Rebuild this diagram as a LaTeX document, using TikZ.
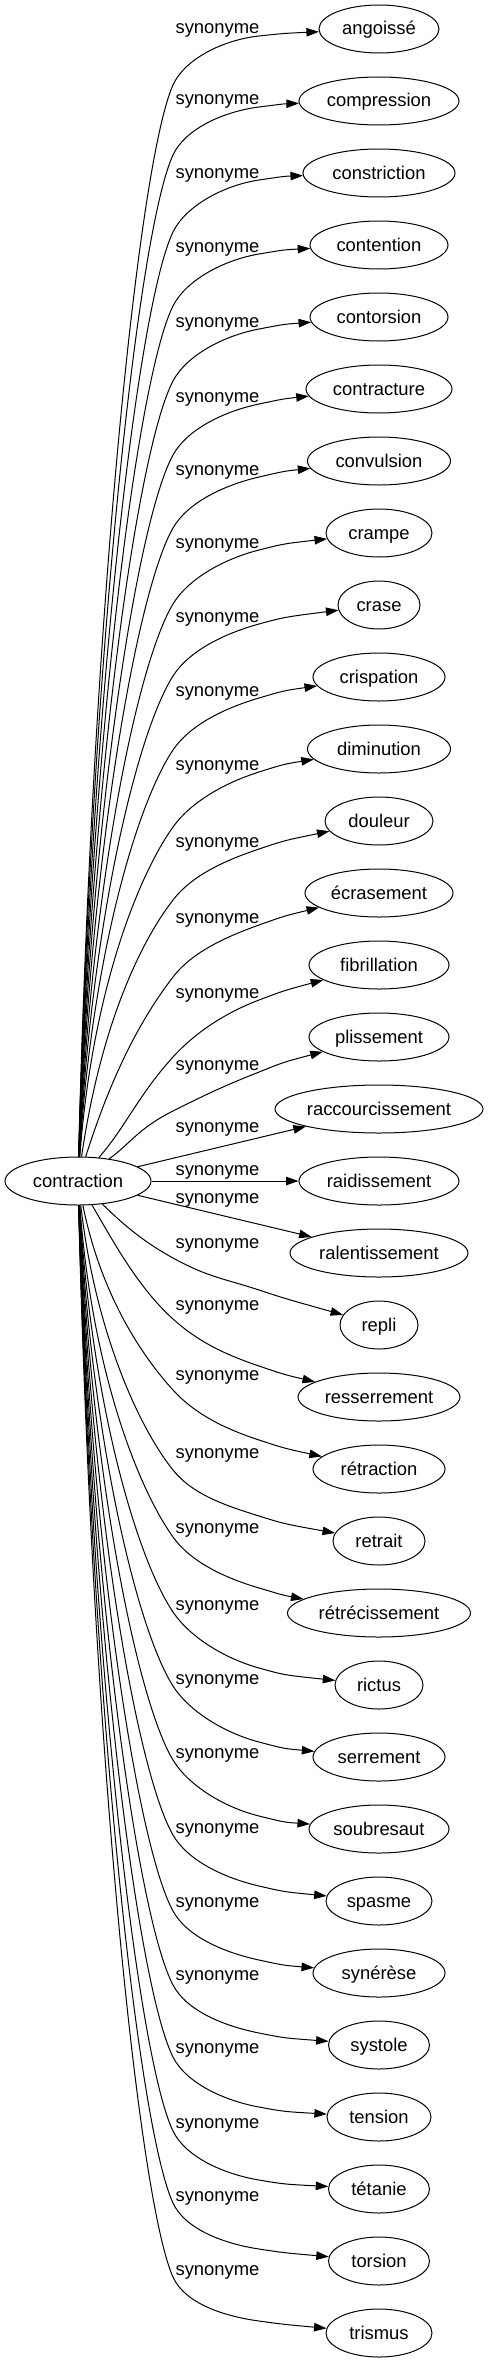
\documentclass[tikz,border=0pt]{standalone}
\usepackage{fontspec}
\setmainfont{Liberation Sans}
\usetikzlibrary{shapes.geometric,arrows.meta}
\tikzset{
  word/.style={ellipse, draw, line width=1pt, inner sep=0pt, minimum height=48pt,
    text height=13pt, text depth=1pt, font=\fontsize{18.4}{22}\selectfont},
  rel/.style={anchor=base, inner sep=0pt, font=\fontsize{18.4}{22}\selectfont},
  edge/.style={line width=1pt, -{Triangle[length=12.5pt,width=8.5pt]}},
}
% #1 target, #2 y at x=173, #3 y at x=259, #4 slope at x=173, #5 slope at x=259, #6,#7 first control
\newcommand\synedge[7]{%
  \draw[edge] (c) .. controls (#6,#7) and (138,{#2-35*(#4)}) .. (173,#2)
   .. controls ({173+30/(abs(#4)+0.3)},{#2+30*(#4)/(abs(#4)+0.3)}) and (224,{#3-35*(#5)}) .. (259,#3)
   .. controls (284,{#3+25*(#5)}) .. (#1);}
\begin{document}
\begin{tikzpicture}[x=1pt,y=-1pt]
\fill[white] (0,0) rectangle (489,2363);
\useasboundingbox (0,0) rectangle (489,2363);

\node[word, minimum width=146pt] (c) at (78,1181) {contraction};

\node[word, minimum width=120pt] (t0) at (379,29) {angoissé};
\node[word, minimum width=160pt] (t1) at (379,101) {compression};
\node[word, minimum width=152pt] (t2) at (379,173) {constriction};
\node[word, minimum width=138pt] (t3) at (379,245) {contention};
\node[word, minimum width=138pt] (t4) at (379,317) {contorsion};
\node[word, minimum width=146pt] (t5) at (379,389) {contracture};
\node[word, minimum width=143pt] (t6) at (379,461) {convulsion};
\node[word, minimum width=106pt] (t7) at (379,533) {crampe};
\node[word, minimum width=82pt] (t8) at (379,605) {crase};
\node[word, minimum width=132pt] (t9) at (379,677) {crispation};
\node[word, minimum width=143pt] (t10) at (379,749) {diminution};
\node[word, minimum width=108pt] (t11) at (379,821) {douleur};
\node[word, minimum width=148pt] (t12) at (379,893) {écrasement};
\node[word, minimum width=140pt] (t13) at (379,965) {fibrillation};
\node[word, minimum width=140pt] (t14) at (379,1037) {plissement};
\node[word, minimum width=208pt] (t15) at (379,1109) {raccourcissement};
\node[word, minimum width=160pt] (t16) at (379,1181) {raidissement};
\node[word, minimum width=178pt] (t17) at (379,1253) {ralentissement};
\node[word, minimum width=78pt] (t18) at (379,1325) {repli};
\node[word, minimum width=162pt] (t19) at (379,1397) {resserrement};
\node[word, minimum width=132pt] (t20) at (379,1469) {rétraction};
\node[word, minimum width=92pt] (t21) at (379,1541) {retrait};
\node[word, minimum width=183pt] (t22) at (379,1613) {rétrécissement};
\node[word, minimum width=88pt] (t23) at (379,1685) {rictus};
\node[word, minimum width=132pt] (t24) at (379,1757) {serrement};
\node[word, minimum width=140pt] (t25) at (379,1829) {soubresaut};
\node[word, minimum width=106pt] (t26) at (379,1901) {spasme};
\node[word, minimum width=132pt] (t27) at (379,1973) {synérèse};
\node[word, minimum width=101pt] (t28) at (379,2045) {systole};
\node[word, minimum width=104pt] (t29) at (379,2117) {tension};
\node[word, minimum width=101pt] (t30) at (379,2189) {tétanie};
\node[word, minimum width=101pt] (t31) at (379,2261) {torsion};
\node[word, minimum width=106pt] (t32) at (379,2333) {trismus};

% upper edges
\synedge{t0}{85}{36}{-2.24}{-0.106}{92}{621}
\synedge{t1}{155}{107}{-2.16}{-0.127}{92}{656}
\synedge{t2}{232}{180}{-2.07}{-0.148}{92}{694.5}
\synedge{t3}{306}{254}{-1.99}{-0.169}{92}{731.5}
\synedge{t4}{381}{329}{-1.90}{-0.19}{92}{769}
\synedge{t5}{455}{404}{-1.82}{-0.211}{92}{806}
\synedge{t6}{528}{477}{-1.74}{-0.232}{92}{842.5}
\synedge{t7}{604}{550}{-1.65}{-0.253}{92}{880.5}
\synedge{t8}{676}{624}{-1.57}{-0.274}{92}{916.5}
\synedge{t9}{750}{698}{-1.48}{-0.295}{92}{953.5}
\synedge{t10}{827}{772}{-1.40}{-0.316}{92}{992}
\synedge{t11}{900}{849}{-1.30}{-0.337}{100}{1030}
\synedge{t12}{977}{925}{-1.30}{-0.358}{110}{1080}
\synedge{t13}{1057}{1000}{-1.10}{-0.379}{125}{1128}
\synedge{t14}{1111}{1072}{-0.50}{-0.40}{130}{1144}
% middle straight edges
\draw[edge] (c) -- (t15);
\draw[edge] (c) -- (t16);
\draw[edge] (c) -- (t17);
% lower edges
\synedge{t18}{1258}{1290}{0.55}{0.33}{118}{1219}
\synedge{t19}{1319}{1366}{0.90}{0.34}{113}{1241}
\synedge{t20}{1390}{1440}{1.10}{0.328}{100}{1290}
\synedge{t21}{1470}{1516}{1.25}{0.312}{95}{1330}
\synedge{t22}{1537}{1588}{1.40}{0.296}{92}{1371}
\synedge{t23}{1612}{1668}{1.48}{0.28}{92}{1408.5}
\synedge{t24}{1686}{1742}{1.57}{0.264}{92}{1445.5}
\synedge{t25}{1760}{1816}{1.65}{0.248}{92}{1482.5}
\synedge{t26}{1835}{1886}{1.74}{0.232}{92}{1520}
\synedge{t27}{1911}{1960}{1.82}{0.216}{92}{1558}
\synedge{t28}{1985}{2033}{1.90}{0.20}{92}{1595}
\synedge{t29}{2057}{2107}{1.99}{0.184}{92}{1631}
\synedge{t30}{2131}{2180}{2.07}{0.168}{92}{1668}
\synedge{t31}{2203}{2249}{2.16}{0.152}{92}{1704}
\synedge{t32}{2277}{2321}{2.24}{0.136}{92}{1741}

% edge labels
\node[rel] (s0) at (217.5,34) {synonyme};
\node[rel] (s1) at (217.5,105) {synonyme};
\node[rel] (s2) at (217.5,178) {synonyme};
\node[rel] (s3) at (217.5,252) {synonyme};
\node[rel] (s4) at (217.5,327) {synonyme};
\node[rel] (s5) at (217.5,402) {synonyme};
\node[rel] (s6) at (217.5,475) {synonyme};
\node[rel] (s7) at (217.5,548) {synonyme};
\node[rel] (s8) at (217.5,622) {synonyme};
\node[rel] (s9) at (217.5,696) {synonyme};
\node[rel] (s10) at (217.5,770) {synonyme};
\node[rel] (s11) at (217.5,847) {synonyme};
\node[rel] (s12) at (217.5,923) {synonyme};
\node[rel] (s13) at (217.5,998) {synonyme};
\node[rel] (s14) at (217.5,1070) {synonyme};
\node[rel] (s15) at (217.5,1132) {synonyme};
\node[rel] (s16) at (217.5,1175) {synonyme};
\node[rel] (s17) at (217.5,1203) {synonyme};
\node[rel] (s18) at (217.5,1248) {synonyme};
\node[rel] (s19) at (217.5,1310) {synonyme};
\node[rel] (s20) at (217.5,1380) {synonyme};
\node[rel] (s21) at (217.5,1458) {synonyme};
\node[rel] (s22) at (217.5,1533) {synonyme};
\node[rel] (s23) at (217.5,1610) {synonyme};
\node[rel] (s24) at (217.5,1684) {synonyme};
\node[rel] (s25) at (217.5,1758) {synonyme};
\node[rel] (s26) at (217.5,1833) {synonyme};
\node[rel] (s27) at (217.5,1907) {synonyme};
\node[rel] (s28) at (217.5,1980) {synonyme};
\node[rel] (s29) at (217.5,2053) {synonyme};
\node[rel] (s30) at (217.5,2128) {synonyme};
\node[rel] (s31) at (217.5,2201) {synonyme};
\node[rel] (s32) at (217.5,2275) {synonyme};
\end{tikzpicture}
\end{document}
